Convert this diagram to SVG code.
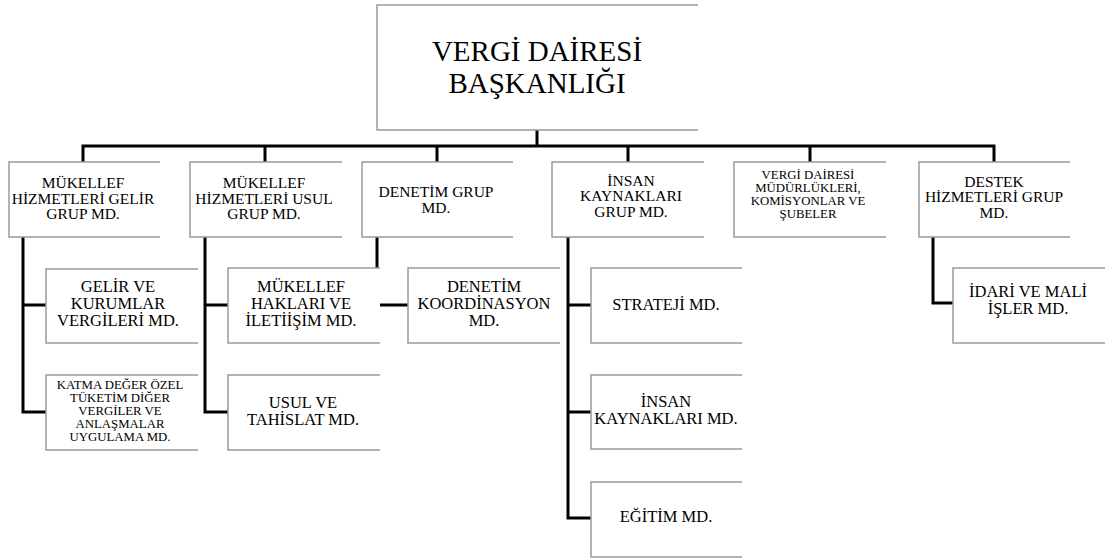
<svg xmlns="http://www.w3.org/2000/svg" width="1105" height="559" viewBox="0 0 1105 559">
<style>
.box{fill:#fff;stroke:#9a9a9a;stroke-width:1.5}
.c{fill:none;stroke:#000;stroke-width:3}
.lbl{font-family:"Liberation Serif","Times New Roman","DejaVu Serif",serif;fill:#000;text-anchor:middle}
.t16{font-size:15.5px}
.t17{font-size:16.5px}
.t13{font-size:12.8px}
</style>
<rect width="1105" height="559" fill="#fff"/>
<g id="connectors">
<path class="c" d="M537,130V146M83,162V146H994V162M265,146V162M437,146V162M628,146V162M810,146V162"/>
<path class="c" d="M23,237V412H46M23,305H46"/>
<path class="c" d="M205,237V412H228M205,305H228"/>
<path class="c" d="M377,237V268M379,305H408"/>
<path class="c" d="M568,237V518H591M568,305H591M568,412H591"/>
<path class="c" d="M933,237V303H953"/>
</g>
<g id="n-root" font-family="Liberation Serif, serif">
<path class="box" d="M698,5H377V130H698"/>
<text class="lbl" x="537" y="61" font-size="29">VERGİ DAİRESİ</text>
<text class="lbl" x="537" y="93" font-size="29">BAŞKANLIĞI</text>
</g>
<g id="n-gelir-grup">
<path class="box" d="M160,162H9V237H160"/>
<text class="lbl t16" x="83"><tspan x="83" y="188">MÜKELLEF</tspan><tspan x="83" y="203.5">HİZMETLERİ GELİR</tspan><tspan x="83" y="219">GRUP MD.</tspan></text>
</g>
<g id="n-usul-grup">
<path class="box" d="M342,162H190V237H342"/>
<text class="lbl t16" x="264"><tspan x="264" y="188">MÜKELLEF</tspan><tspan x="264" y="203.5">HİZMETLERİ USUL</tspan><tspan x="264" y="219">GRUP MD.</tspan></text>
</g>
<g id="n-denetim-grup">
<path class="box" d="M513,162H362V237H513"/>
<text class="lbl t16" x="436"><tspan x="436" y="197">DENETİM GRUP</tspan><tspan x="436" y="213">MD.</tspan></text>
</g>
<g id="n-insan-grup">
<path class="box" d="M704,162H552V237H704"/>
<text class="lbl t16" x="631"><tspan x="631" y="185.5">İNSAN</tspan><tspan x="631" y="201">KAYNAKLARI</tspan><tspan x="631" y="216.5">GRUP MD.</tspan></text>
</g>
<g id="n-vd-mudurlukleri">
<path class="box" d="M886,162H734V237H886"/>
<text class="lbl t13" x="808"><tspan x="808" y="179">VERGİ DAİRESİ</tspan><tspan x="808" y="192">MÜDÜRLÜKLERİ,</tspan><tspan x="808" y="205">KOMİSYONLAR VE</tspan><tspan x="808" y="218">ŞUBELER</tspan></text>
</g>
<g id="n-destek-grup">
<path class="box" d="M1070,162H919V237H1070"/>
<text class="lbl t16" x="994"><tspan x="994" y="186.5">DESTEK</tspan><tspan x="994" y="202">HİZMETLERİ GRUP</tspan><tspan x="994" y="217.5">MD.</tspan></text>
</g>
<g id="n-gelir-kurumlar">
<path class="box" d="M198,269H46V343H198"/>
<text class="lbl t17" x="118"><tspan x="118" y="292">GELİR VE</tspan><tspan x="118" y="309">KURUMLAR</tspan><tspan x="118" y="326">VERGİLERİ MD.</tspan></text>
</g>
<g id="n-katma">
<path class="box" d="M198,375H46V450H198"/>
<text class="lbl t13" x="120"><tspan x="120" y="389">KATMA DEĞER ÖZEL</tspan><tspan x="120" y="402">TÜKETİM DİĞER</tspan><tspan x="120" y="415">VERGİLER VE</tspan><tspan x="120" y="428">ANLAŞMALAR</tspan><tspan x="120" y="441">UYGULAMA MD.</tspan></text>
</g>
<g id="n-mukellef-haklari">
<path class="box" d="M380,268H228V343H380"/>
<text class="lbl t17" x="301"><tspan x="301" y="292">MÜKELLEF</tspan><tspan x="301" y="309">HAKLARI VE</tspan><tspan x="301" y="326">İLETİİŞİM MD.</tspan></text>
</g>
<g id="n-usul-tahislat">
<path class="box" d="M380,375H228V450H380"/>
<text class="lbl t17" x="303"><tspan x="303" y="408">USUL VE</tspan><tspan x="303" y="425">TAHİSLAT MD.</tspan></text>
</g>
<g id="n-denetim-koord">
<path class="box" d="M560,268H408V343H560"/>
<text class="lbl t17" x="484"><tspan x="484" y="292">DENETİM</tspan><tspan x="484" y="309">KOORDİNASYON</tspan><tspan x="484" y="326">MD.</tspan></text>
</g>
<g id="n-strateji">
<path class="box" d="M742,268H591V343H742"/>
<text class="lbl t17" x="666" y="310">STRATEJİ MD.</text>
</g>
<g id="n-insan-kaynaklari">
<path class="box" d="M742,375H591V449H742"/>
<text class="lbl t17" x="666"><tspan x="666" y="407">İNSAN</tspan><tspan x="666" y="424">KAYNAKLARI MD.</tspan></text>
</g>
<g id="n-egitim">
<path class="box" d="M742,482H591V557H742"/>
<text class="lbl t17" x="666" y="522">EĞİTİM MD.</text>
</g>
<g id="n-idari-mali">
<path class="box" d="M1105,268H953V343H1105"/>
<text class="lbl t17" x="1028"><tspan x="1028" y="297">İDARİ VE MALİ</tspan><tspan x="1028" y="314">İŞLER MD.</tspan></text>
</g>
</svg>
